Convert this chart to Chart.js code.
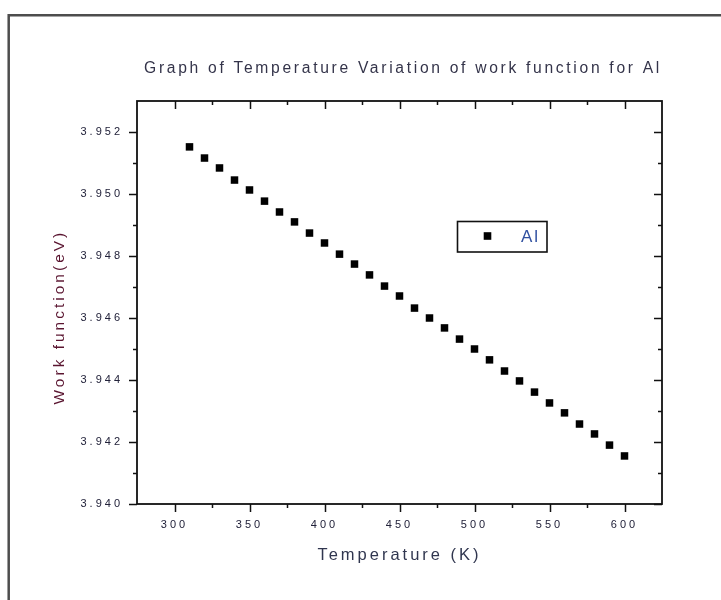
<!DOCTYPE html>
<html>
<head>
<meta charset="utf-8">
<script src="https://cdn.jsdelivr.net/npm/chart.js@4/dist/chart.umd.min.js"></script>
<style>
html,body{margin:0;padding:0;background:#fff;}
#wrap{width:721px;height:600px;position:relative;}
canvas{display:block;}
</style>
</head>
<body>
<div id="wrap"><canvas id="c" width="721" height="600"></canvas></div>
<script>
// ---- data ----
const temperatures = [310, 320, 330, 340, 350, 360, 370, 380, 390, 400,
                      410, 420, 430, 440, 450, 460, 470, 480, 490, 500,
                      510, 520, 530, 540, 550, 560, 570, 580, 590, 600];
const workFunction = [3.95152, 3.95116, 3.95084, 3.95045, 3.95013, 3.94977, 3.94942, 3.94910, 3.94874, 3.94842,
                      3.94806, 3.94774, 3.94739, 3.94703, 3.94671, 3.94632, 3.94600, 3.94568, 3.94532, 3.94500,
                      3.94465, 3.94429, 3.94397, 3.94361, 3.94326, 3.94294, 3.94258, 3.94226, 3.94190, 3.94155];
const xMajorTicks = [300, 350, 400, 450, 500, 550, 600];
const xMinorTicks = [325, 375, 425, 475, 525, 575];
const yMajorTicks = [3.940, 3.942, 3.944, 3.946, 3.948, 3.950, 3.952];
const yMinorTicks = [3.941, 3.943, 3.945, 3.947, 3.949, 3.951];
const seriesName = 'Al';
const chartTitle = 'Graph of Temperature Variation of work function for Al';
const xTitle = 'Temperature (K)';
const yTitle = 'Work function(eV)';

const FONT = "'Liberation Sans', Arial, sans-serif";

const originStyle = {
  id: 'originStyle',
  beforeDraw(chart) {
    const ctx = chart.ctx;
    ctx.save();
    ctx.fillStyle = '#ffffff';
    ctx.fillRect(0, 0, chart.width, chart.height);
    ctx.restore();
    ctx.letterSpacing = '2.75px';   // chart title spacing
  },
  afterDatasetsDraw(chart) {
    chart.ctx.letterSpacing = '3px'; // axis titles and tick labels spacing
  },
  afterDraw(chart) {
    const ctx = chart.ctx;
    const a = chart.chartArea;
    const xs = chart.scales.x, ys = chart.scales.y;
    ctx.save();
    ctx.letterSpacing = '0px';
    // outer page frame (top and left visible)
    ctx.strokeStyle = '#4d4d4d';
    ctx.lineWidth = 2.5;
    ctx.beginPath();
    ctx.moveTo(8.7, 600);
    ctx.lineTo(8.7, 15.2);
    ctx.lineTo(721, 15.2);
    ctx.stroke();

    // plot box
    ctx.strokeStyle = '#111';
    ctx.lineWidth = 1.8;
    ctx.strokeRect(a.left, a.top, a.right - a.left, a.bottom - a.top);

    // tick marks
    ctx.lineWidth = 1.5;
    const maj = 8, min = 4;
    const xt = (v, len) => {
      const px = Math.round(xs.getPixelForValue(v)) + 0.5;
      ctx.beginPath();
      ctx.moveTo(px, a.bottom); ctx.lineTo(px, a.bottom + len);
      ctx.moveTo(px, a.top); ctx.lineTo(px, a.top + len);
      ctx.stroke();
    };
    const yt = (v, len) => {
      const py = Math.round(ys.getPixelForValue(v)) + 0.5;
      ctx.beginPath();
      ctx.moveTo(a.left, py); ctx.lineTo(a.left - len, py);
      ctx.moveTo(a.right, py); ctx.lineTo(a.right - len, py);
      ctx.stroke();
    };
    xMajorTicks.forEach(v => xt(v, maj));
    xMinorTicks.forEach(v => xt(v, min));
    yMajorTicks.forEach(v => yt(v, maj));
    yMinorTicks.forEach(v => yt(v, min));

    // legend box
    ctx.lineWidth = 1.6;
    ctx.strokeStyle = '#111';
    ctx.strokeRect(457.5, 221.5, 89.5, 30.5);
    ctx.fillStyle = '#000';
    ctx.fillRect(483.7, 232.2, 7.6, 7.6);
    ctx.letterSpacing = '2px';
    ctx.font = '17px ' + FONT;
    ctx.fillStyle = '#3050a0';
    ctx.textAlign = 'left';
    ctx.textBaseline = 'middle';
    ctx.fillText(chart.data.datasets[0].label, 521, 237);
    ctx.restore();
  }
};

new Chart(document.getElementById('c'), {
  type: 'scatter',
  data: {
    datasets: [{
      label: seriesName,
      data: temperatures.map((t, i) => ({ x: t, y: workFunction[i] })),
      pointStyle: 'rect',
      pointRadius: 5.3,
      pointHoverRadius: 5.3,
      pointBackgroundColor: '#000',
      pointBorderWidth: 0,
      showLine: false
    }]
  },
  options: {
    responsive: false,
    animation: false,
    devicePixelRatio: 1,
    layout: { padding: { left: 0, top: 0, right: 59, bottom: 0 } },
    plugins: {
      legend: { display: false },
      tooltip: { enabled: false },
      title: {
        display: true,
        text: ' ' + chartTitle,
        align: 'start',
        fullSize: false,
        color: '#34344a',
        font: { family: FONT, size: 16, weight: 'normal' },
        padding: { top: 59.4, bottom: 22.4 }
      }
    },
    scales: {
      x: {
        type: 'linear',
        min: 275,
        max: 625,
        afterBuildTicks: s => { s.ticks = xMajorTicks.map(v => ({ value: v })); },
        afterFit: s => { s.height = 96; },
        grid: { display: false, drawTicks: false, z: 1 },
        border: { display: false },
        ticks: {
          z: 2,
          color: '#22223a',
          font: { family: FONT, size: 11 },
          padding: 14,
          maxRotation: 0,
          callback: v => String(v)
        },
        title: {
          display: true,
          text: xTitle,
          color: '#30364f',
          font: { family: FONT, size: 16.5, weight: 'normal' },
          padding: { top: 0, bottom: 35 }
        }
      },
      y: {
        type: 'linear',
        min: 3.940,
        max: 3.953,
        afterBuildTicks: s => { s.ticks = yMajorTicks.map(v => ({ value: v })); },
        afterFit: s => { s.width = 137; },
        grid: { display: false, drawTicks: false, z: 1 },
        border: { display: false },
        ticks: {
          z: 2,
          color: '#22223a',
          font: { family: FONT, size: 11 },
          padding: 14,
          callback: v => Number(v).toFixed(3)
        },
        title: {
          display: true,
          text: yTitle + '    ',
          color: '#5a1530',
          font: { family: FONT, size: 15.5, weight: 'normal' },
          padding: { top: 50.7, bottom: 0 }
        }
      }
    }
  },
  plugins: [originStyle]
});
</script>
</body>
</html>
